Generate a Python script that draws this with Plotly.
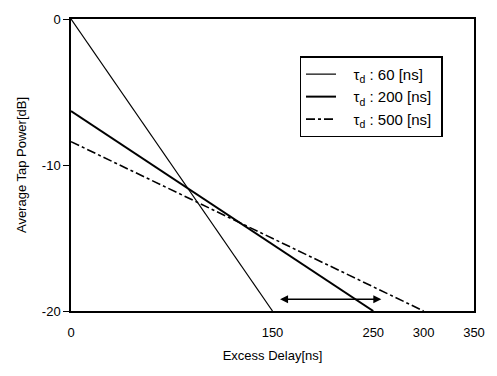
import numpy as np
import plotly.graph_objects as go

# ---- data ----
series_names = ["\u00a0\u00a0\u00a0τ<sub>d</sub> : 60 [ns]\u00a0",
                "\u00a0\u00a0\u00a0τ<sub>d</sub> : 200 [ns]\u00a0",
                "\u00a0\u00a0\u00a0τ<sub>d</sub> : 500 [ns]\u00a0"]
delay_60 = [0, 150]
power_60 = [0, -20]
delay_200 = [0, 250]
power_200 = [-6.3, -20]
delay_500 = [0, 300]
power_500 = [-8.4, -20]
x_ticks = [0, 150, 250, 300, 350]
x_tick_labels = ["0", "150", "250", "300", "350"]
y_ticks = [0, -10, -20]
y_tick_labels = ["0", "-10", "-20"]
arrow_delay = [156, 258]
arrow_power = -19.2

# The original axis is non-uniform: 0-150 ns fills the first half, 150-350 ns the second half.
def xscale(v):
    return np.interp(v, [0, 150, 350], [0, 0.5, 1.0])

FONT = "Liberation Sans Narrow, Liberation Sans, Arial, sans-serif"

fig = go.Figure()
fig.add_trace(go.Scatter(x=xscale(delay_60), y=power_60, mode="lines", name=series_names[0],
                         line=dict(color="black", width=1.2)))
fig.add_trace(go.Scatter(x=xscale(delay_200), y=power_200, mode="lines", name=series_names[1],
                         line=dict(color="black", width=2)))
fig.add_trace(go.Scatter(x=xscale(delay_500), y=power_500, mode="lines", name=series_names[2],
                         line=dict(color="black", width=1.6, dash="dashdot")))

fig.add_annotation(x=xscale(arrow_delay[1]), y=arrow_power, ax=xscale(arrow_delay[0]), ay=arrow_power,
                   xref="x", yref="y", axref="x", ayref="y", text="", showarrow=True,
                   arrowhead=2, startarrowhead=2, arrowside="end+start", arrowwidth=1.6,
                   arrowsize=1, startarrowsize=1, arrowcolor="black")

fig.update_layout(
    width=497, height=376,
    margin=dict(l=71, r=15, t=14, b=65),
    plot_bgcolor="white", paper_bgcolor="white",
    font=dict(family=FONT, size=13, color="black"),
    showlegend=True,
    legend=dict(x=0.567, y=0.872, xanchor="left", yanchor="top",
                bordercolor="black", borderwidth=1.5, bgcolor="white",
                font=dict(size=15, family=FONT), tracegroupgap=2,
                itemwidth=30),
)
fig.update_xaxes(range=[0, 1], tickmode="array", tickvals=xscale(x_ticks), ticktext=x_tick_labels,
                 showline=True, linecolor="black", linewidth=1.5, mirror=True,
                 showgrid=False, zeroline=False, ticks="outside", ticklen=9, tickcolor="white",
                 title=dict(text="Excess Delay[ns]", standoff=12, font=dict(size=13)),
                 tickfont=dict(size=13))
fig.update_yaxes(range=[-20, 0], tickmode="array", tickvals=y_ticks, ticktext=y_tick_labels,
                 showline=True, linecolor="black", linewidth=1.5, mirror=True,
                 showgrid=False, zeroline=False, ticks="outside", ticklen=6, tickcolor="black",
                 title=dict(text="Average Tap Power[dB]", standoff=12, font=dict(size=13)),
                 tickfont=dict(size=13))

fig.write_html("out.html")
